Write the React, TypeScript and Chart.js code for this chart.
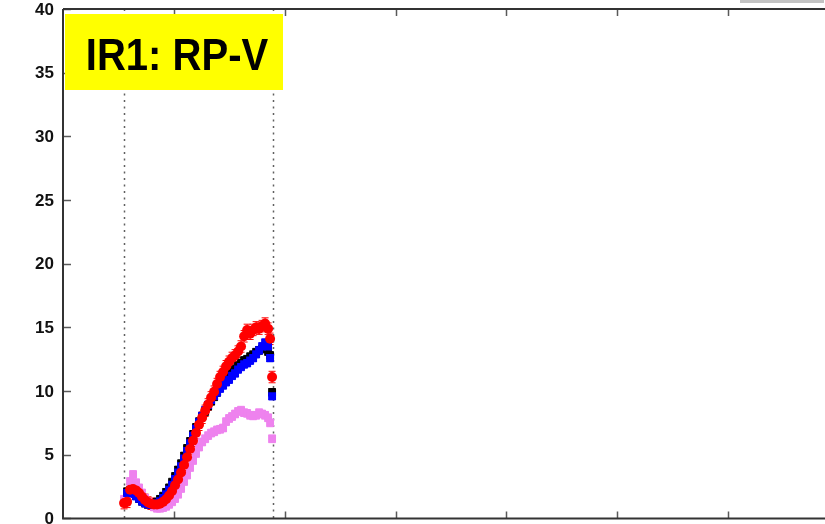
import React, { useEffect, useRef } from "react";
import { Chart, registerables } from "chart.js";

Chart.register(...registerables);

// Horizontal positions of the measurements (axis units, one tick per unit)
const xPositions = [
  0.551, 0.578, 0.605, 0.632, 0.659, 0.686, 0.713, 0.74, 0.767, 0.794,
  0.821, 0.848, 0.875, 0.903, 0.93, 0.957, 0.984, 1.011, 1.038, 1.065,
  1.092, 1.119, 1.146, 1.173, 1.2, 1.227, 1.255, 1.282, 1.309, 1.336,
  1.363, 1.39, 1.417, 1.444, 1.471, 1.498, 1.525, 1.552, 1.579, 1.606,
  1.634, 1.661, 1.688, 1.715, 1.742, 1.769, 1.796, 1.823, 1.85, 1.868,
  1.886,
];

const redValues = [
  1.2, 1.3, 2.25, 2.3, 2.2, 2.0, 1.7, 1.45, 1.25, 1.15,
  1.1, 1.1, 1.15, 1.3, 1.5, 1.8, 2.15, 2.6, 3.05, 3.6,
  4.2, 4.8, 5.45, 6.1, 6.7, 7.35, 7.9, 8.45, 8.95, 9.5,
  9.95, 10.55, 11.1, 11.5, 11.95, 12.3, 12.6, 12.8, 13.1, 13.5,
  14.3, 14.8, 14.5, 14.8, 15.0, 14.9, 15.1, 15.3, 14.9, 14.1,
  11.1,
];

const blackValues = [
  null, 2.1, 2.2, 2.0, 1.8, 1.55, 1.35, 1.2, 1.1, 1.1,
  1.15, 1.3, 1.5, 1.75, 2.05, 2.4, 2.85, 3.3, 3.8, 4.3,
  4.9, 5.5, 6.05, 6.6, 7.15, 7.6, 8.0, 8.4, 8.8, 9.2,
  9.55, 9.9, 10.35, 10.7, 11.0, 11.25, 11.5, 11.75, 12.0, 12.2,
  12.4, 12.5, 12.7, 12.85, 13.05, 13.2, 13.3, 13.4, 13.1, 12.8,
  9.9,
];

const blueValues = [
  null, 2.0, 2.1, 1.95, 1.75, 1.55, 1.35, 1.2, 1.1, 1.05,
  1.1, 1.2, 1.35, 1.6, 1.9, 2.25, 2.65, 3.1, 3.6, 4.1,
  4.7, 5.3, 5.9, 6.5, 7.05, 7.55, 8.05, 8.5, 8.9, 9.3,
  9.6, 9.9, 10.2, 10.45, 10.7, 10.9, 11.2, 11.4, 11.7, 11.9,
  12.1, 12.2, 12.4, 12.6, 12.9, 13.2, 13.5, 13.8, 13.5, 12.6,
  9.6,
];

const violetValues = [
  1.5, 1.6, 2.9, 3.45, 2.8, 2.4, 2.0, 1.6, 1.3, 1.05,
  0.9, 0.8, 0.8, 0.85, 0.95, 1.1, 1.3, 1.55, 1.9, 2.35,
  2.9, 3.4, 4.0, 4.55, 5.1, 5.6, 6.0, 6.25, 6.5, 6.7,
  6.8, 6.95, 7.0, 7.1, 7.6, 7.85, 8.0, 8.2, 8.4, 8.5,
  8.3, 8.25, 8.1, 8.05, 8.1, 8.3, 8.2, 8.1, 7.9, 7.5,
  6.25,
];

// Symmetric uncertainty per series
const redError = 0.45;
const blackError = 0.3;
const blueError = 0.3;
const violetError = 0.3;

const yTicks = [0, 5, 10, 15, 20, 25, 30, 35, 40];
const xTicks = [1, 2, 3, 4, 5, 6];
const guideLines = [0.551, 1.895];
const panelLabel = "IR1: RP-V";

const toPoints = (vals: (number | null)[]) =>
  xPositions
    .map((x, i) => ({ x, y: vals[i] }))
    .filter((p) => p.y !== null) as { x: number; y: number }[];

const FONT = '"Liberation Sans", Arial, Helvetica, sans-serif';

const decorPlugin = {
  id: "decor",
  beforeDatasetsDraw(chart: any) {
    const { ctx, chartArea: a, scales } = chart;
    const xs = scales.x;
    const ys = scales.y;
    ctx.save();
    // dotted guide lines
    ctx.strokeStyle = "#606060";
    ctx.lineWidth = 1.5;
    ctx.setLineDash([2, 4.5]);
    guideLines.forEach((v) => {
      const px = Math.round(xs.getPixelForValue(v)) + 0.5;
      ctx.beginPath();
      ctx.moveTo(px, a.top);
      ctx.lineTo(px, a.bottom);
      ctx.stroke();
    });
    ctx.setLineDash([]);
    // error bars
    for (let i = chart.data.datasets.length - 1; i >= 0; i--) {
      const ds = chart.data.datasets[i];
      ctx.strokeStyle = ds.pointBackgroundColor;
      ctx.lineWidth = 1;
      ds.data.forEach((p: any) => {
        const px = xs.getPixelForValue(p.x);
        const t = ys.getPixelForValue(p.y + ds.errorBar);
        const b = ys.getPixelForValue(p.y - ds.errorBar);
        ctx.beginPath();
        ctx.moveTo(px, t);
        ctx.lineTo(px, b);
        ctx.moveTo(px - 3.5, t);
        ctx.lineTo(px + 3.5, t);
        ctx.moveTo(px - 3.5, b);
        ctx.lineTo(px + 3.5, b);
        ctx.stroke();
      });
    }
    ctx.restore();
  },
  afterDraw(chart: any) {
    const { ctx, chartArea: a, scales } = chart;
    const xs = scales.x;
    const ys = scales.y;
    ctx.save();
    // inner tick marks
    ctx.strokeStyle = "#5a5a5a";
    ctx.lineWidth = 1.5;
    yTicks.forEach((v) => {
      const py = Math.round(ys.getPixelForValue(v)) + 0.5;
      ctx.beginPath();
      ctx.moveTo(a.left, py);
      ctx.lineTo(a.left + 8, py);
      ctx.stroke();
    });
    xTicks.forEach((v) => {
      const px = Math.round(xs.getPixelForValue(v)) + 0.5;
      ctx.beginPath();
      ctx.moveTo(px, a.top);
      ctx.lineTo(px, a.top + 7);
      ctx.moveTo(px, a.bottom);
      ctx.lineTo(px, a.bottom - 7);
      ctx.stroke();
    });
    // frame
    ctx.strokeStyle = "#333333";
    ctx.lineWidth = 2;
    ctx.beginPath();
    ctx.moveTo(a.left, a.top);
    ctx.lineTo(a.right, a.top);
    ctx.moveTo(a.left, a.top);
    ctx.lineTo(a.left, a.bottom);
    ctx.lineTo(a.right, a.bottom);
    ctx.stroke();
    // y tick labels
    ctx.fillStyle = "#111111";
    ctx.font = `bold 17px ${FONT}`;
    ctx.textAlign = "right";
    ctx.textBaseline = "middle";
    yTicks.forEach((v) => {
      ctx.fillText(String(v), a.left - 9, ys.getPixelForValue(v) + 1);
    });
    // panel label
    ctx.fillStyle = "#ffff00";
    ctx.fillRect(65, 14, 218, 76);
    ctx.fillStyle = "#000000";
    ctx.font = `bold 44px ${FONT}`;
    ctx.textAlign = "center";
    ctx.textBaseline = "alphabetic";
    ctx.translate(177, 70);
    ctx.scale(0.91, 1);
    ctx.fillText(panelLabel, 0, 0);
    ctx.restore();
  },
};

const makeSet = (
  label: string,
  vals: (number | null)[],
  color: string,
  style: string,
  radius: number,
  err: number
) => ({
  label,
  data: toPoints(vals),
  showLine: false,
  pointStyle: style,
  pointRadius: radius,
  pointHoverRadius: radius,
  pointBorderWidth: 0,
  pointBackgroundColor: color,
  pointBorderColor: color,
  backgroundColor: color,
  borderColor: color,
  errorBar: err,
});

export default function App() {
  const ref = useRef<HTMLCanvasElement>(null);

  useEffect(() => {
    const chart = new Chart(ref.current as HTMLCanvasElement, {
      type: "scatter",
      data: {
        datasets: [
          makeSet("red", redValues, "#ff0000", "circle", 5, redError),
          makeSet("blue", blueValues, "#0000ff", "rect", 5.6, blueError),
          makeSet("black", blackValues, "#000000", "rect", 5.6, blackError),
          makeSet("violet", violetValues, "#ee82ee", "rect", 5.6, violetError),
        ] as any,
      },
      options: {
        responsive: false,
        animation: false,
        devicePixelRatio: 1,
        layout: { padding: { left: 63, top: 9, right: 21, bottom: 5 } },
        scales: {
          x: { type: "linear", min: 0, max: 7, display: false },
          y: { type: "linear", min: 0, max: 40, display: false },
        },
        plugins: {
          legend: { display: false },
          tooltip: { enabled: false },
        },
      },
      plugins: [decorPlugin],
    });
    return () => chart.destroy();
  }, []);

  return (
    <div
      style={{
        position: "fixed",
        left: 0,
        top: 0,
        width: 825,
        height: 524,
        overflow: "hidden",
        background: "#ffffff",
      }}
    >
      <canvas
        ref={ref}
        width={860}
        height={524}
        style={{ display: "block", width: 860, height: 524 }}
      />
      <div
        style={{
          position: "absolute",
          left: 740,
          top: 0,
          width: 84,
          height: 3,
          background: "#c3c3c3",
        }}
      />
    </div>
  );
}
